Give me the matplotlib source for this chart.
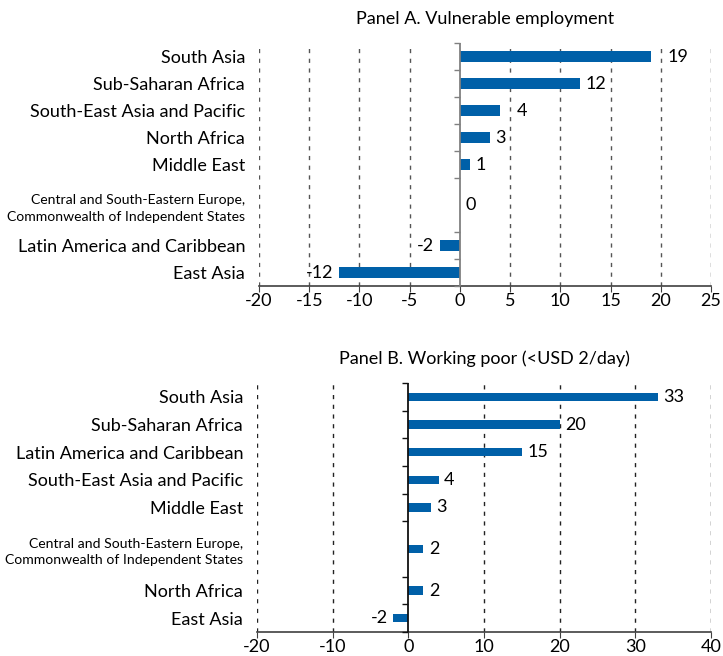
import matplotlib as mpl
mpl.use("Agg")
import matplotlib.pyplot as plt

plt.rcParams['font.family'] = ['Lato', 'DejaVu Sans']

CENTRAL = 'Central and South-Eastern Europe,\nCommonwealth of Independent States'

# Panel A: change in vulnerable employment
cats_a = ['South Asia', 'Sub-Saharan Africa', 'South-East Asia and Pacific',
          'North Africa', 'Middle East', CENTRAL,
          'Latin America and Caribbean', 'East Asia']
vals_a = [19, 12, 4, 3, 1, 0, -2, -12]
ticks_a = [-20, -15, -10, -5, 0, 5, 10, 15, 20, 25]

# Panel B: change in working poor (<USD 2/day)
cats_b = ['South Asia', 'Sub-Saharan Africa', 'Latin America and Caribbean',
          'South-East Asia and Pacific', 'Middle East', CENTRAL,
          'North Africa', 'East Asia']
vals_b = [33, 20, 15, 4, 3, 2, 2, -2]
ticks_b = [-20, -10, 0, 10, 20, 30, 40]

# row slots: the two-line label takes two rows
slots = [0, 1, 2, 3, 4, 5.5, 7, 8]
BLUE = '#0060a8'
W, H = 723, 656
FS = 13


def panel(ax, cats, vals, ticks, title, bar_h, zero_col, grid_col, pads):
    ax.barh(slots, vals, height=bar_h, color=BLUE, zorder=3)
    ax.set_ylim(8.5, -0.5)
    ax.set_xlim(ticks[0], ticks[-1])
    ax.set_xticks(ticks)
    ax.set_xticklabels([str(t) for t in ticks])
    ax.set_yticks(slots)
    ax.set_yticklabels(cats, fontsize=FS)
    for lab in ax.get_yticklabels():
        if '\n' in lab.get_text():
            lab.set_fontsize(10.1)
            lab.set_linespacing(1.45)
    ax.tick_params(axis='y', length=0, pad=10)
    ax.tick_params(axis='x', length=4, direction='out', labelsize=FS,
                   color='#404040', pad=1)
    for s in ['top', 'right', 'left']:
        ax.spines[s].set_visible(False)
    ax.spines['bottom'].set_color('#404040')
    ax.spines['bottom'].set_linewidth(1.2)
    for t in ticks:
        if t != 0:
            ax.axvline(t, color=grid_col, lw=1.0, ls=(0, (3, 4)), zorder=1)
    ax.axvline(0, color=zero_col, lw=1.3, zorder=4)
    # small marks on the category axis at row boundaries
    for b in [-0.5, 0.5, 1.5, 2.5, 3.5, 4.5, 6.5, 7.5, 8.5]:
        ax.plot([0], [b], marker=0, ms=4, mew=1.0, color=zero_col,
                zorder=4, clip_on=False)
    for y, v, p in zip(slots, vals, pads):
        if v >= 0:
            ax.annotate(str(v), (v, y), xytext=(p, 0), textcoords='offset points',
                        ha='left', va='center', fontsize=FS, zorder=5)
        else:
            ax.annotate(str(v), (v, y), xytext=(-p, 0), textcoords='offset points',
                        ha='right', va='center', fontsize=FS, zorder=5)
    ax.set_title(title, fontsize=FS, pad=14)


fig = plt.figure(figsize=(W / 100, H / 100), dpi=100)
ax_a = fig.add_axes([259 / W, 1 - 286 / H, 452 / W, 243 / H])
ax_b = fig.add_axes([257 / W, 1 - 632 / H, 454 / W, 249 / H])

panel(ax_a, cats_a, vals_a, ticks_a, 'Panel A. Vulnerable employment',
      0.4, '#808080', '#555555', [12, 4, 12, 4, 4, 4, 4, 4])
panel(ax_b, cats_b, vals_b, ticks_b, 'Panel B. Working poor (<USD 2/day)',
      0.3, '#111111', '#222222', [4] * 8)

fig.savefig('out.png', dpi=100)
